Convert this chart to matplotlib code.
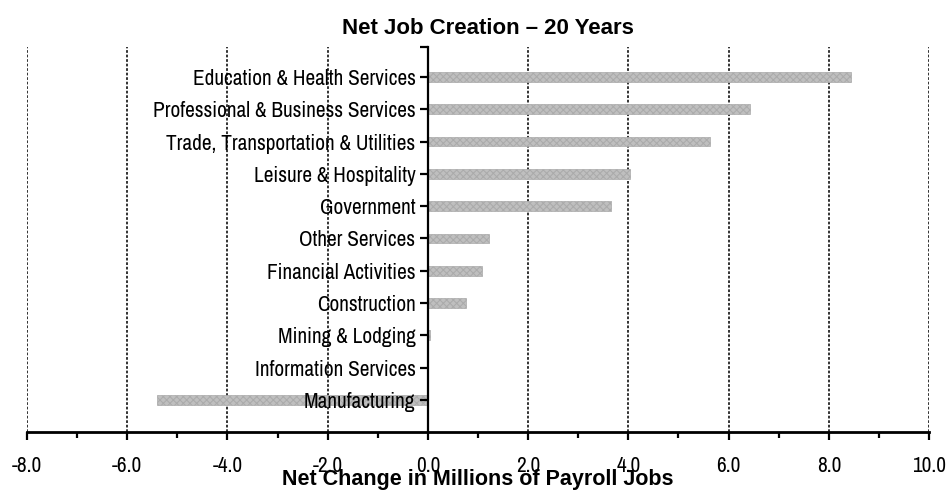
import numpy as np
import matplotlib.pyplot as plt
from matplotlib import font_manager
from matplotlib.ticker import MultipleLocator, FormatStrFormatter

available = {f.name for f in font_manager.fontManager.ttflist}
narrow = [n for n in ['Liberation Sans Narrow', 'Arial Narrow', 'Archivo Narrow',
                      'PT Sans Narrow', 'Roboto Condensed'] if n in available]
plt.rcParams['font.family'] = narrow[:1] + ['Liberation Sans', 'DejaVu Sans']
plt.rcParams['hatch.color'] = '#858585'
plt.rcParams['hatch.linewidth'] = 0.7

# Net change in payroll jobs over 20 years, millions, by sector
sectors = ['Manufacturing', 'Information Services', 'Mining & Lodging', 'Construction',
           'Financial Activities', 'Other Services', 'Government', 'Leisure & Hospitality',
           'Trade, Transportation & Utilities', 'Professional & Business Services',
           'Education & Health Services']
net_change = [-5.41, -0.02, 0.05, 0.76, 1.08, 1.22, 3.65, 4.03, 5.63, 6.43, 8.44]

fig = plt.figure(figsize=(9.48, 4.95), dpi=100)
ax = fig.add_axes([0.0285, 0.127, 0.9515, 0.778])
ax.set_axisbelow(False)

y = np.arange(len(sectors))
ax.barh(y, net_change, height=0.3, color='#bfbfbf', edgecolor='#aaaaaa',
        linewidth=0.5, hatch='xxxxx', zorder=2)

ymax = 10.93
ax.set_xlim(-8, 10)
ax.set_ylim(-1.0, ymax)
ax.xaxis.set_major_locator(MultipleLocator(2))
ax.xaxis.set_minor_locator(MultipleLocator(1))
ax.xaxis.set_major_formatter(FormatStrFormatter('%.1f'))
ax.set_yticks(y)
ax.set_yticklabels(sectors)
ax.set_yticks([ymax], minor=True)

ax.spines['left'].set_position(('data', 0))
ax.spines['left'].set_linewidth(1.6)
ax.spines['bottom'].set_linewidth(2)
ax.spines['top'].set_visible(False)
ax.spines['right'].set_visible(False)

ax.tick_params(axis='y', which='both', direction='out', length=6, width=1.6, pad=3,
               labelsize=15.3)
ax.tick_params(axis='x', which='major', direction='out', length=6, width=1.6,
               labelsize=15.3, pad=11)
ax.tick_params(axis='x', which='minor', direction='out', length=4, width=1.6)

# vertical dotted gridlines at the major ticks
for xv in np.arange(-8, 11, 2):
    if xv != 0:
        ax.axvline(xv, color='#222222', linestyle=(0, (1.5, 1)), linewidth=1.3, zorder=1)

ax.set_xlabel('Net Change in Millions of Payroll Jobs', family='Liberation Sans',
              fontsize=15.5, fontweight='bold', labelpad=-5)
fig.text(488 / 948, 1 - 29 / 495, 'Net Job Creation \u2013 20 Years', ha='center',
         va='center', family='Liberation Sans', fontsize=16, fontweight='bold')

fig.savefig('out.png', dpi=100)
